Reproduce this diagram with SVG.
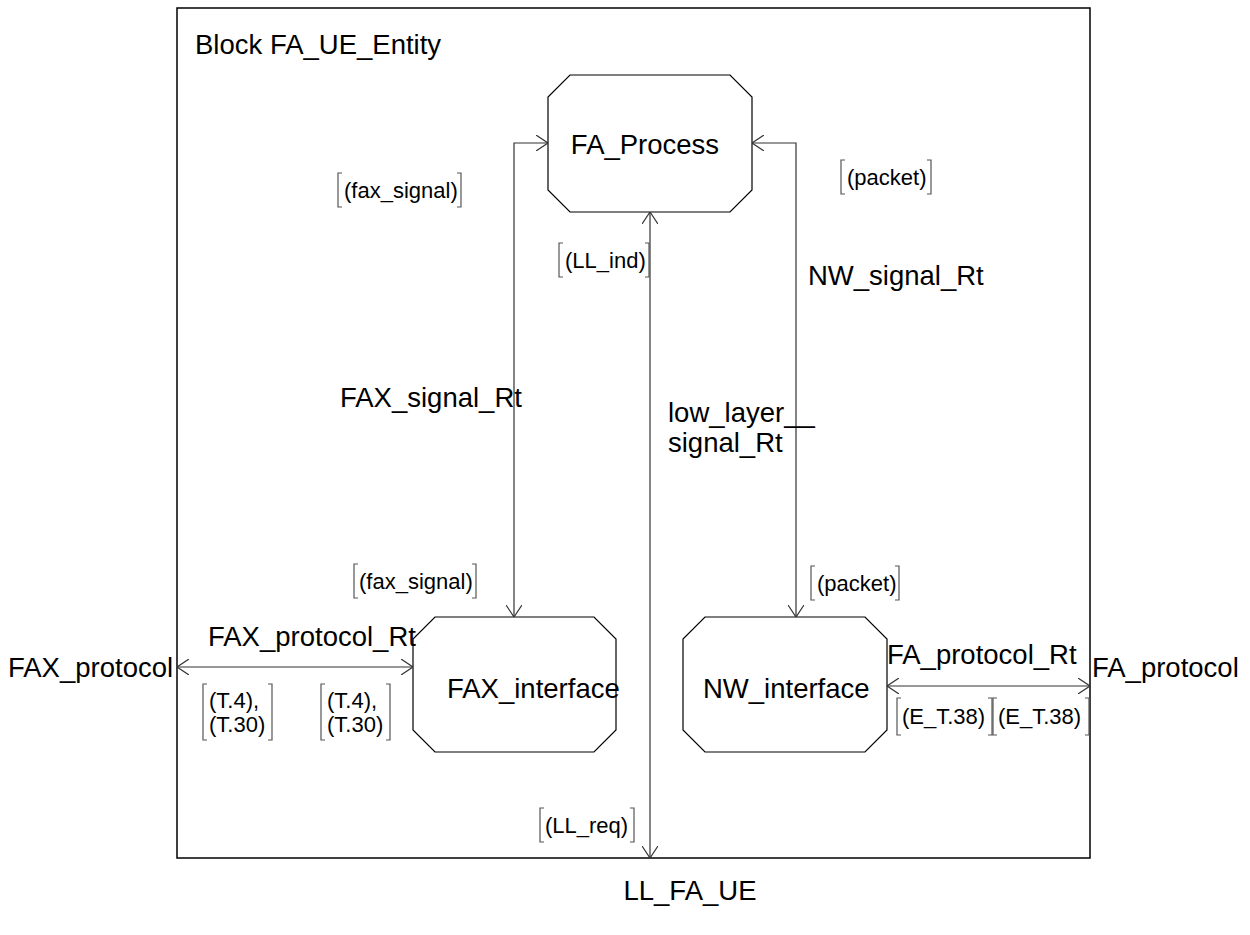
<svg xmlns="http://www.w3.org/2000/svg" width="1250" height="935" viewBox="0 0 1250 935">
<style>
.t{font-family:"Liberation Sans",Arial,sans-serif;font-size:27.5px;fill:#000}
.s{font-family:"Liberation Sans",Arial,sans-serif;font-size:22px;fill:#000}
.n{fill:#fff;stroke:#000;stroke-width:1.2}
.c{fill:none;stroke:#333;stroke-width:1.2}
.b{fill:none;stroke:#555;stroke-width:1.2}
</style>
<defs>
<marker id="ah" viewBox="0 0 12 16" refX="12" refY="8" markerWidth="12" markerHeight="16" markerUnits="userSpaceOnUse" orient="auto-start-reverse">
<path d="M0,0 L12,8 L0,16" fill="none" stroke="#333" stroke-width="1.2"/>
</marker>
</defs>
<rect id="frame" x="177" y="8" width="913" height="850" fill="#fff" stroke="#000" stroke-width="1.5"/>
<text class="t" x="195" y="54">Block FA_UE_Entity</text>
<g id="FA_Process">
<path class="n" d="M570,75 H730 L752,97 V190 L730,212 H570 L548,190 V97 Z"/>
<text class="t" x="645" y="154" text-anchor="middle">FA_Process</text>
</g>
<g id="FAX_interface">
<path class="n" d="M435,617 H594 L616,639 V730 L594,752 H435 L413,730 V639 Z"/>
<text class="t" x="447" y="698">FAX_interface</text>
</g>
<g id="NW_interface">
<path class="n" d="M705,617 H865 L887,639 V730 L865,752 H705 L683,730 V639 Z"/>
<text class="t" x="703" y="698">NW_interface</text>
</g>
<g id="connectors">
<polyline class="c" points="548,143 514,143 514,617" marker-start="url(#ah)" marker-end="url(#ah)"/>
<polyline class="c" points="752,143 796,143 796,617" marker-start="url(#ah)" marker-end="url(#ah)"/>
<line class="c" x1="650" y1="212" x2="650" y2="858" marker-start="url(#ah)" marker-end="url(#ah)"/>
<line class="c" x1="177" y1="667" x2="413" y2="667" marker-start="url(#ah)" marker-end="url(#ah)"/>
<line class="c" x1="887" y1="686" x2="1090" y2="686" marker-start="url(#ah)" marker-end="url(#ah)"/>
</g>
<g id="labels">
<text class="t" x="340" y="407">FAX_signal_Rt</text>
<text class="t" x="808" y="285">NW_signal_Rt</text>
<text class="t" x="668" y="422">low_layer__</text>
<text class="t" x="668" y="452">signal_Rt</text>
<text class="t" x="208" y="646">FAX_protocol_Rt</text>
<text class="t" x="8" y="677">FAX_protocol</text>
<text class="t" x="887" y="664">FA_protocol_Rt</text>
<text class="t" x="1092" y="677">FA_protocol</text>
<text class="t" x="690" y="900" text-anchor="middle">LL_FA_UE</text>
</g>
<g id="signals">
<path class="b" d="M342,173 h-4 v34 h4 M457,173 h4 v34 h-4"/>
<text class="s" x="344" y="198">(fax_signal)</text>
<path class="b" d="M845,160 h-4 v34 h4 M927,160 h4 v34 h-4"/>
<text class="s" x="847" y="185">(packet)</text>
<path class="b" d="M563,243 h-4 v34 h4 M645,243 h4 v34 h-4"/>
<text class="s" x="565" y="268">(LL_ind)</text>
<path class="b" d="M358,564 h-4 v34 h4 M472,564 h4 v34 h-4"/>
<text class="s" x="359" y="589">(fax_signal)</text>
<path class="b" d="M815,566 h-4 v34 h4 M895,566 h4 v34 h-4"/>
<text class="s" x="817" y="591">(packet)</text>
<path class="b" d="M207,684 h-4 v56 h4 M268,684 h4 v56 h-4"/>
<text class="s" x="209" y="708">(T.4),</text>
<text class="s" x="209" y="732">(T.30)</text>
<path class="b" d="M325,684 h-4 v56 h4 M386,684 h4 v56 h-4"/>
<text class="s" x="327" y="708">(T.4),</text>
<text class="s" x="327" y="732">(T.30)</text>
<path class="b" d="M901,698 h-4 v37 h4 M988,698 h4 v37 h-4"/>
<text class="s" x="902" y="724">(E_T.38)</text>
<path class="b" d="M997,698 h-4 v37 h4 M1085,698 h4 v37 h-4"/>
<text class="s" x="998" y="724">(E_T.38)</text>
<path class="b" d="M544,808 h-4 v34 h4 M630,808 h4 v34 h-4"/>
<text class="s" x="545" y="833">(LL_req)</text>
</g>
</svg>
